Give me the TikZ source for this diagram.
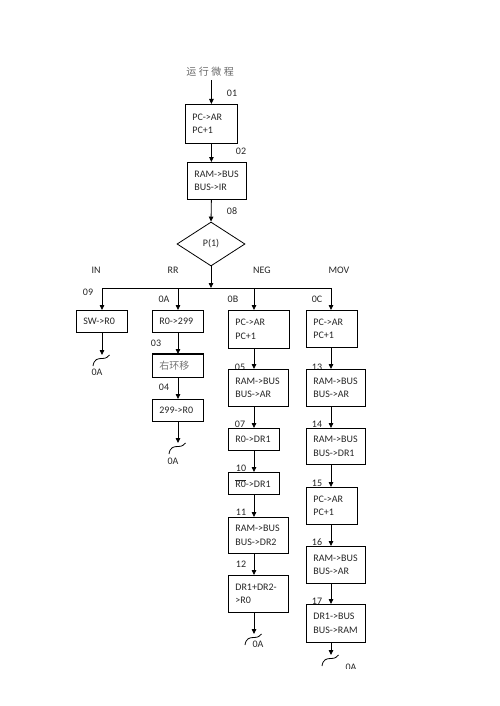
\documentclass[tikz,border=0pt]{standalone}
\usepackage{fontspec}
\setmainfont{Carlito}
\newfontfamily\cjk{Noto Sans CJK SC}
\usetikzlibrary{arrows.meta,shapes.geometric}

\tikzset{
  box/.style={draw, anchor=north west, inner xsep=7pt, inner ysep=0pt, text width=#1, align=left},
  arr/.style={-{Triangle[length=5pt,width=4.5pt]}},
}
\newcommand{\wave}[1]{\draw[shift={(#1)}] (-9,11) .. controls (-8,4) and (-4,3.5) .. (0,3.5) .. controls (4,3.5) and (6,2) .. (7.5,0);}

\begin{document}
\begin{tikzpicture}[x=1pt,y=-1pt,line width=0.8pt,font=\fontsize{10}{13.5}\selectfont,text=black!85]
\useasboundingbox (0,0) rectangle (500,706);
\clip (0,0) rectangle (500,668);
% main column
\node[font=\cjk\fontsize{10}{12}\selectfont, text=black!60] (title) at (210,72) {运\hspace{2.5pt}行\hspace{2.5pt}微\hspace{2.5pt}程};
\node[box=38pt, minimum height=39pt] (m1) at (185,104) {PC->AR\\PC+1};
\node[box=45pt, minimum height=37pt] (m2) at (187,162) {RAM->BUS\\BUS->IR};
\node[draw, diamond, minimum width=68pt, minimum height=44pt, inner sep=0pt] (p1) at (211,244) {P(1)};
\draw[arr] (m1.north |- title.south) -- (m1.north);
\draw[arr] (m1.south) -- (m1.south |- m2.north);
\draw[arr] (m1.south |- m2.south) -- (p1.north);
% branches
\coordinate (cIN) at (102,288);
\coordinate (cRR) at (178,288);
\coordinate (cNEG) at (254,288);
\coordinate (cMOV) at (331,288);
\draw[arr] (p1.south) -- (p1.south |- cIN);
\draw (cIN) -- (cMOV);
\foreach \t/\x in {IN/96,RR/173,NEG/262,MOV/339} \node (b\t) at (\x,270) {\t};
\foreach \t/\x/\y in {01/232/93, 02/241/151, 08/232/211, 09/88/292, 0A/164/299, 0B/233/299, 0C/317/299,
  03/156/343, 04/164/387, 05/240/367, 07/240/424, 10/241/468, 11/241/512, 12/241/564,
  13/317/367, 14/317/424, 15/317/483, 16/317/542, 17/317/601}
  \node (s\t) at (\x,\y) {\t};
% IN
\node[box=37pt, minimum height=22pt] (in1) at (76,310) {SW->R0};
\coordinate (eIN) at (102,355);
\draw[arr] (eIN |- in1.south) -- (eIN);
\wave{eIN}
\node (aIN) at (97,372) {0A};
% RR
\node[box=37pt, minimum height=22pt] (rr1) at (152,310) {R0->299};
\node[box=37pt, minimum height=23pt, font=\cjk\fontsize{10}{12}\selectfont, text=black!55] (rr2) at (152,354) {右环移};
\node[box=37pt, minimum height=22pt] (rr3) at (152,399) {299->R0};
\draw[line width=1.2pt] (rr2.north west) -- (rr2.north east);
\coordinate (eRR) at (178,443);
\foreach \a/\b in {rr1/rr2,rr2/rr3} \draw[arr] (cRR |- \a.south) -- (cRR |- \b.north);
\draw[arr] (eRR |- rr3.south) -- (eRR);
\wave{eRR}
\node (aRR) at (173,461) {0A};
% NEG
\node[box=47pt, minimum height=38pt] (n1) at (228,310) {PC->AR\\PC+1};
\node[box=46pt, minimum height=37pt] (n2) at (228,369) {RAM->BUS\\BUS->AR};
\node[box=37pt, minimum height=22pt] (n3) at (228,428) {R0->DR1};
\node[box=37pt, minimum height=22pt] (n4) at (228,472) {$\overline{\mbox{R0}}$->DR1};
\node[box=46pt, minimum height=36pt] (n5) at (228,517) {RAM->BUS\\BUS->DR2};
\node[box=46pt, minimum height=37pt] (n6) at (228,575) {DR1+DR2-\\>R0};
\coordinate (eNEG) at (254,634);
\foreach \a/\b in {n1/n2,n2/n3,n3/n4,n4/n5,n5/n6} \draw[arr] (cNEG |- \a.south) -- (cNEG |- \b.north);
\draw[arr] (eNEG |- n6.south) -- (eNEG);
\wave{eNEG}
\node (aNEG) at (258,644) {0A};
% MOV
\node[box=37pt, minimum height=37pt] (v1) at (306,310) {PC->AR\\PC+1};
\node[box=45pt, minimum height=37pt] (v2) at (306,369) {RAM->BUS\\BUS->AR};
\node[box=45pt, minimum height=36pt] (v3) at (306,428) {RAM->BUS\\BUS->DR1};
\node[box=37pt, minimum height=37pt] (v4) at (306,487) {PC->AR\\PC+1};
\node[box=45pt, minimum height=37pt] (v5) at (306,546) {RAM->BUS\\BUS->AR};
\node[box=45pt, minimum height=38pt] (v6) at (306,604) {DR1->BUS\\BUS->RAM};
\coordinate (eMOV) at (331,655);
\foreach \a/\b in {v1/v2,v2/v3,v3/v4,v4/v5,v5/v6} \draw[arr] (cMOV |- \a.south) -- (cMOV |- \b.north);
\draw[arr] (eMOV |- v6.south) -- (eMOV);
\wave{eMOV}
\node (aMOV) at (351,667) {0A};
% junction arrows
\foreach \c/\a in {cIN/in1,cRR/rr1,cNEG/n1,cMOV/v1} \draw[arr] (\c) -- (\c |- \a.north);
\end{tikzpicture}
\end{document}
